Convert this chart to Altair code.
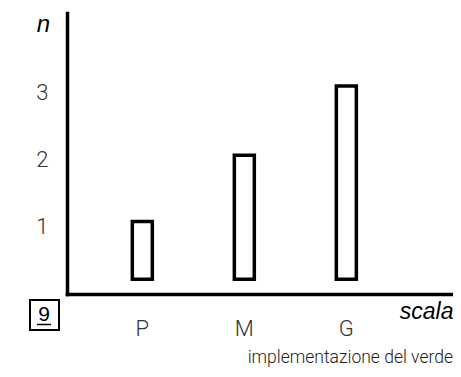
import altair as alt
import pandas as pd

# data
scale_labels = ["P", "M", "G"]
bar_tops = [1.08, 2.07, 3.10]
bar_bases = [0.22, 0.22, 0.22]
y_ticks = [1, 2, 3]

df = pd.DataFrame({"scala": scale_labels, "top": bar_tops, "base": bar_bases})

LIGHT = "Roboto"

bars = alt.Chart(df).mark_bar(
    width=20, fill="white", stroke="black", strokeWidth=3.5
).encode(
    x=alt.X(
        "scala:N",
        sort=scale_labels,
        scale=alt.Scale(domain=scale_labels, paddingInner=0, paddingOuter=0.392, align=0.304),
        axis=alt.Axis(
            title="scala",
            titleFont="Liberation Sans",
            titleFontStyle="italic",
            titleFontWeight="normal",
            titleFontSize=23,
            titleColor="black",
            titleAlign="right",
            titleAnchor="end",
            titleAngle=0,
            titleX=386,
            titleY=24,
            titleBaseline="alphabetic",
            domainColor="black",
            domainWidth=3.5,
            domainCap="square",
            ticks=False,
            tickSize=0,
            grid=False,
            labelFont=LIGHT,
            labelFontWeight=300,
            labelFontSize=22,
            labelColor="#333333",
            labelAngle=0,
            labelPadding=41,
            labelBaseline="alphabetic",
        ),
    ),
    y=alt.Y(
        "top:Q",
        scale=alt.Scale(domain=[0, 4.19], nice=False, zero=True),
        axis=alt.Axis(
            values=y_ticks,
            title="n",
            titleFont="Liberation Sans",
            titleFontStyle="italic",
            titleFontWeight="normal",
            titleFontSize=24,
            titleColor="black",
            titleAngle=0,
            titleAlign="center",
            titleX=-24,
            titleY=18,
            titleBaseline="alphabetic",
            domainColor="black",
            domainWidth=3.5,
            domainCap="square",
            ticks=False,
            tickSize=0,
            grid=False,
            labelFont=LIGHT,
            labelFontWeight=300,
            labelFontSize=22,
            labelColor="#333333",
            labelPadding=19,
        ),
    ),
    y2="base:Q",
)

anno = alt.Chart(pd.DataFrame({"k": [0]}))

box = anno.mark_rect(fill="white", stroke="black", strokeWidth=2).encode(
    x=alt.value(-37), x2=alt.value(-8), y=alt.value(287), y2=alt.value(317)
)
nine = anno.mark_text(
    text="9", font="Liberation Sans", fontSize=21, align="center", baseline="alphabetic", color="black"
).encode(x=alt.value(-23), y=alt.value(308))
underline = anno.mark_rule(color="black", strokeWidth=1.5).encode(
    x=alt.value(-30), x2=alt.value(-16), y=alt.value(311.5)
)
caption = anno.mark_text(
    text="implementazione del verde", font=LIGHT, fontWeight=300, fontSize=17.5,
    align="right", baseline="alphabetic", color="#222222"
).encode(x=alt.value(386), y=alt.value(350))

chart = alt.layer(bars, box, nine, underline, caption).properties(
    width=386,
    height=281,
    autosize=alt.AutoSizeParams(type="none"),
    padding={"left": 59, "top": 5, "right": 0, "bottom": 74},
).configure_view(stroke=None)

chart.save("out.html", embed_options={"renderer": "svg", "actions": False})
